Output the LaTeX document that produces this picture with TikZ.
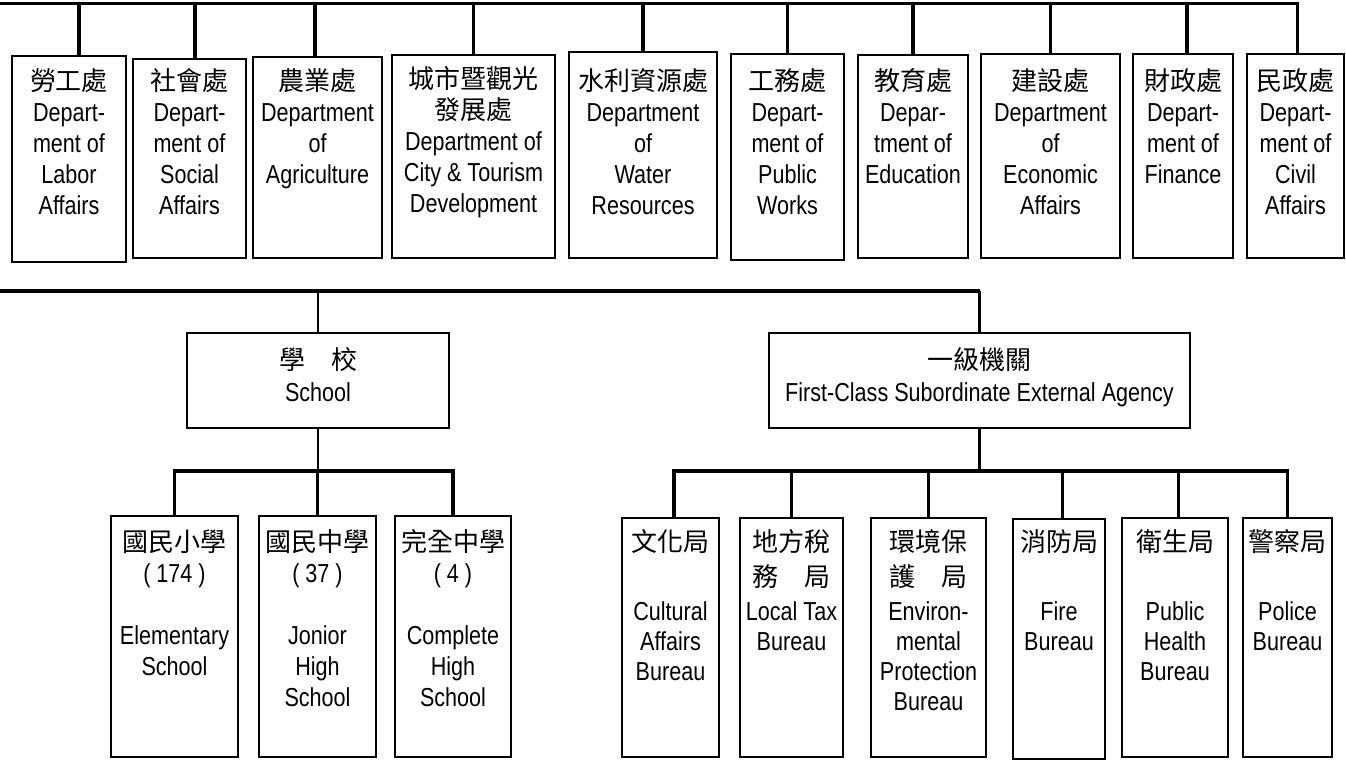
\documentclass[tikz,border=0pt]{standalone}
\usepackage{fontspec}
\setmainfont{Liberation Sans}
\newfontfamily\enN{Liberation Sans}[FakeStretch=0.83]
\newfontfamily\cjN{Noto Sans CJK TC}
\newcommand\zh[1]{{\cjN #1}}
\newcommand\fr{\rule{0pt}{20pt}}
\newcommand\mkbox[5]{\node[box, minimum width={(#4-#2)*0.75pt}, minimum height={(#5-#3)*0.75pt}] (#1) at ({(#2+#4)/2},{(#3+#5)/2}) {};}
\tikzset{
  box/.style={draw, line width=1.9pt, inner sep=0pt},
  lbl/.style={anchor=north, inner sep=0pt, align=center, font=\enN\fontsize{19.5pt}{23.25pt}\selectfont},
  lblh/.style={anchor=north, inner sep=0pt, align=center, font=\enN\fontsize{19.5pt}{24pt}\selectfont},
  lblb/.style={anchor=north, inner sep=0pt, align=center, font=\enN\fontsize{19.5pt}{22.5pt}\selectfont},
  bus/.style={line width=2.7pt},
  link/.style={line width=1.9pt}
}
\begin{document}
\begin{tikzpicture}[x=0.75pt,y=-0.75pt]
\useasboundingbox (0,0) rectangle (1346,760);
% top row boxes
\mkbox{b1}{12}{56}{126}{262}
\mkbox{b2}{133}{59}{246}{258}
\mkbox{b3}{253}{57}{382}{258}
\mkbox{b4}{392}{55}{555}{258}
\mkbox{b5}{569}{52}{717}{258}
\mkbox{b6}{731}{54}{844}{260}
\mkbox{b7}{858}{55}{968}{258}
\mkbox{b8}{981}{54}{1120}{258}
\mkbox{b9}{1133}{54}{1233}{258}
\mkbox{b10}{1247}{54}{1344}{258}
\node[lbl] (t1) at (69,63.3) {\fr\zh{勞工處}\\Depart-\\ment of\\Labor\\Affairs};
\node[lbl] (t2) at (189.5,63.3) {\fr\zh{社會處}\\Depart-\\ment of\\Social\\Affairs};
\node[lbl] (t3) at (317.5,63.3) {\fr\zh{農業處}\\Department\\of\\Agriculture};
\node[lbl] (t4) at (473.5,62) {\fr\zh{城市暨觀光}\\\zh{發展處}\\Department of\\City \& Tourism\\Development};
\node[lbl] (t5) at (643,63.3) {\fr\zh{水利資源處}\\Department\\of\\Water\\Resources};
\node[lbl] (t6) at (787.5,63.3) {\fr\zh{工務處}\\Depart-\\ment of\\Public\\Works};
\node[lbl] (t7) at (913,63.3) {\fr\zh{教育處}\\Depar-\\tment of\\Education};
\node[lbl] (t8) at (1050.5,63.3) {\fr\zh{建設處}\\Department\\of\\Economic\\Affairs};
\node[lbl] (t9) at (1183,63.3) {\fr\zh{財政處}\\Depart-\\ment of\\Finance};
\node[lbl] (t10) at (1295.5,63.3) {\fr\zh{民政處}\\Depart-\\ment of\\Civil\\Affairs};
% top bus
\coordinate (barA) at (0,3.3);
\draw[bus] (barA) -| ([xshift=1.5pt]b10.north);
\draw[bus] ([xshift=7.5pt]b1.north) -- ([xshift=7.5pt]b1.north |- barA);
\draw[bus] ([xshift=4.1pt]b2.north) -- ([xshift=4.1pt]b2.north |- barA);
\draw[bus] ([xshift=-1.9pt]b3.north) -- ([xshift=-1.9pt]b3.north |- barA);
\foreach \b in {b4,b5,b6,b7,b8}{\draw[bus] (\b.north) -- (\b.north |- barA);}
\draw[bus] ([xshift=3pt]b9.north) -- ([xshift=3pt]b9.north |- barA);
% second level
\mkbox{sch}{187}{333}{449}{428}
\mkbox{ag}{769}{333}{1190}{428}
\node[lblh] (tsch) at (318,342.3) {\fr\zh{學　校}\\School};
\node[lblh] (tag) at (979.5,342.3) {\fr\zh{一級機關}\\First-Class Subordinate External Agency};
\coordinate (barB) at (0,291);
\draw[bus] (barB) -- (ag.north |- barB);
\draw[link] (ag.north |- barB) -- (ag.north);
\draw[link] (sch.north |- barB) -- (sch.north);
% schools
\mkbox{s1}{111}{516}{238}{757}
\mkbox{s2}{259}{516}{376}{757}
\mkbox{s3}{395}{516}{511}{757}
\node[lbl] (ts1) at (174.5,524.3) {\fr\zh{國民小學}\\( 174 )\\\mbox{}\\Elementary\\School};
\node[lbl] (ts2) at (317.5,524.3) {\fr\zh{國民中學}\\( 37 )\\\mbox{}\\Jonior\\High\\School};
\node[lbl] (ts3) at (453,524.3) {\fr\zh{完全中學}\\( 4 )\\\mbox{}\\Complete\\High\\School};
\coordinate (busS) at (0,471);
\draw[link] (sch.south) -- (sch.south |- busS);
\draw[bus] (s1.north) -- (s1.north |- busS) -- (s3.north |- busS) -- (s3.north);
\draw[bus] (s2.north |- busS) -- (s2.north);
% agencies
\mkbox{r1}{622}{518}{719}{757}
\mkbox{r2}{740}{518}{843}{757}
\mkbox{r3}{871}{518}{986}{757}
\mkbox{r4}{1013}{519}{1105}{759}
\mkbox{r5}{1122}{518}{1228}{757}
\mkbox{r6}{1243}{518}{1332}{757}
\node[lblb] (tr1) at (670.5,524.3) {\fr\zh{文化局}\\[3.75pt]\mbox{}\\[3pt]Cultural\\Affairs\\Bureau};
\node[lblb] (tr2) at (791.5,524.3) {\fr\zh{地方稅}\\[3.75pt]\zh{務　局}\\[3pt]Local Tax\\Bureau};
\node[lblb] (tr3) at (928.5,524.3) {\fr\zh{環境保}\\[3.75pt]\zh{護　局}\\[3pt]Environ-\\mental\\Protection\\Bureau};
\node[lblb] (tr4) at (1059,524.3) {\fr\zh{消防局}\\[3.75pt]\mbox{}\\[3pt]Fire\\Bureau};
\node[lblb] (tr5) at (1175,524.3) {\fr\zh{衛生局}\\[3.75pt]\mbox{}\\[3pt]Public\\Health\\Bureau};
\node[lblb] (tr6) at (1287.5,524.3) {\fr\zh{警察局}\\[3.75pt]\mbox{}\\[3pt]Police\\Bureau};
\coordinate (busA) at (0,471);
\draw[link] (ag.south) -- (ag.south |- busA);
\draw[bus] ([xshift=2.6pt]r1.north) -- ([xshift=2.6pt]r1.north |- busA) -- (r6.north |- busA) -- (r6.north);
\draw[bus] ([xshift=2.6pt]r4.north |- busA) -- ([xshift=2.6pt]r4.north);
\draw[bus] ([xshift=2.6pt]r5.north |- busA) -- ([xshift=2.6pt]r5.north);
\foreach \r in {r2,r3}{\draw[bus] (\r.north |- busA) -- (\r.north);}
\end{tikzpicture}
\end{document}
